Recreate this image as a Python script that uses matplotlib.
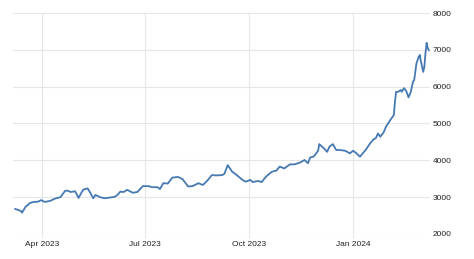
import matplotlib.pyplot as plt
import matplotlib.dates as mdates
import numpy as np
import pandas as pd

dates = [
    "2023-03-08", "2023-03-13", "2023-03-14", "2023-03-17", "2023-03-21", "2023-03-24",
    "2023-03-28", "2023-03-31", "2023-04-03", "2023-04-08", "2023-04-12", "2023-04-17",
    "2023-04-21", "2023-04-23", "2023-04-26", "2023-04-30", "2023-05-03", "2023-05-07",
    "2023-05-11", "2023-05-13", "2023-05-16", "2023-05-18", "2023-05-22", "2023-05-26",
    "2023-05-31", "2023-06-04", "2023-06-06", "2023-06-09", "2023-06-12", "2023-06-15",
    "2023-06-20", "2023-06-24", "2023-06-29", "2023-07-04", "2023-07-07", "2023-07-12",
    "2023-07-14", "2023-07-17", "2023-07-21", "2023-07-25", "2023-07-30", "2023-08-03",
    "2023-08-08", "2023-08-12", "2023-08-17", "2023-08-21", "2023-08-25", "2023-08-29",
    "2023-09-02", "2023-09-07", "2023-09-09", "2023-09-12", "2023-09-16", "2023-09-20",
    "2023-09-25", "2023-09-28", "2023-10-02", "2023-10-04", "2023-10-09", "2023-10-12",
    "2023-10-16", "2023-10-21", "2023-10-25", "2023-10-28", "2023-11-01", "2023-11-06",
    "2023-11-10", "2023-11-15", "2023-11-19", "2023-11-22", "2023-11-24", "2023-11-27",
    "2023-12-01", "2023-12-02", "2023-12-06", "2023-12-09", "2023-12-11", "2023-12-14",
    "2023-12-17", "2023-12-20", "2023-12-25", "2023-12-29", "2024-01-01", "2024-01-04",
    "2024-01-07", "2024-01-12", "2024-01-16", "2024-01-19", "2024-01-21", "2024-01-23",
    "2024-01-25", "2024-01-28", "2024-01-30", "2024-02-03", "2024-02-06", "2024-02-07",
    "2024-02-08", "2024-02-10", "2024-02-12", "2024-02-13", "2024-02-15", "2024-02-17",
    "2024-02-19", "2024-02-21", "2024-02-22", "2024-02-23", "2024-02-24", "2024-02-25",
    "2024-02-26", "2024-02-28", "2024-02-29", "2024-03-01", "2024-03-03", "2024-03-04",
    "2024-03-05", "2024-03-06", "2024-03-07", "2024-03-08",
]
prices = [
    2680, 2625, 2580, 2733, 2840, 2870,
    2877, 2920, 2870, 2900, 2960, 3000,
    3170, 3180, 3140, 3160, 2980, 3200,
    3240, 3140, 2970, 3060, 3000, 2970,
    2990, 3010, 3050, 3150, 3140, 3200,
    3120, 3140, 3300, 3300, 3270, 3270,
    3220, 3380, 3370, 3530, 3550, 3490,
    3290, 3300, 3380, 3330, 3450, 3600,
    3590, 3600, 3630, 3870, 3690, 3600,
    3470, 3420, 3470, 3410, 3440, 3410,
    3560, 3690, 3720, 3830, 3780, 3890,
    3890, 3940, 4010, 3920, 4080, 4100,
    4260, 4440, 4330, 4230, 4370, 4440,
    4280, 4280, 4260, 4190, 4260, 4190,
    4100, 4280, 4460, 4570, 4600, 4730,
    4640, 4760, 4910, 5100, 5230, 5590,
    5860, 5860, 5910, 5860, 5960, 5880,
    5710, 5860, 6000, 6140, 6180, 6400,
    6630, 6810, 6860, 6680, 6400, 6540,
    6910, 7190, 7050, 6990,
]
y_ticks = [2000, 3000, 4000, 5000, 6000, 7000, 8000]

x = pd.to_datetime(dates)

plt.rcParams["font.family"] = ["Liberation Sans", "DejaVu Sans"]

fig = plt.figure(figsize=(4.74, 2.59), dpi=100)
ax = fig.add_axes([13 / 474, 25 / 259, 417 / 474, 221 / 259])

ax.plot(x, prices, color="#4579b2", linewidth=1.3, solid_joinstyle="round")

ax.set_xlim(x[0] - pd.Timedelta(days=2), x[-1] + pd.Timedelta(days=1))
ax.set_ylim(2000, 8000)
ax.set_yticks(y_ticks)
ax.yaxis.tick_right()

ax.xaxis.set_major_locator(mdates.MonthLocator(bymonth=[1, 4, 7, 10]))
ax.xaxis.set_major_formatter(mdates.DateFormatter("%b %Y"))

ax.grid(True, color="#e6e6e6", linewidth=0.8)
ax.set_axisbelow(True)
for s in ax.spines.values():
    s.set_visible(False)

ax.tick_params(axis="x", length=3, color="#e6e6e6", labelsize=6, labelcolor="#222222", pad=2)
ax.tick_params(axis="y", length=0, labelsize=6, labelcolor="#222222", pad=2)

fig.savefig("out.png", dpi=100)
